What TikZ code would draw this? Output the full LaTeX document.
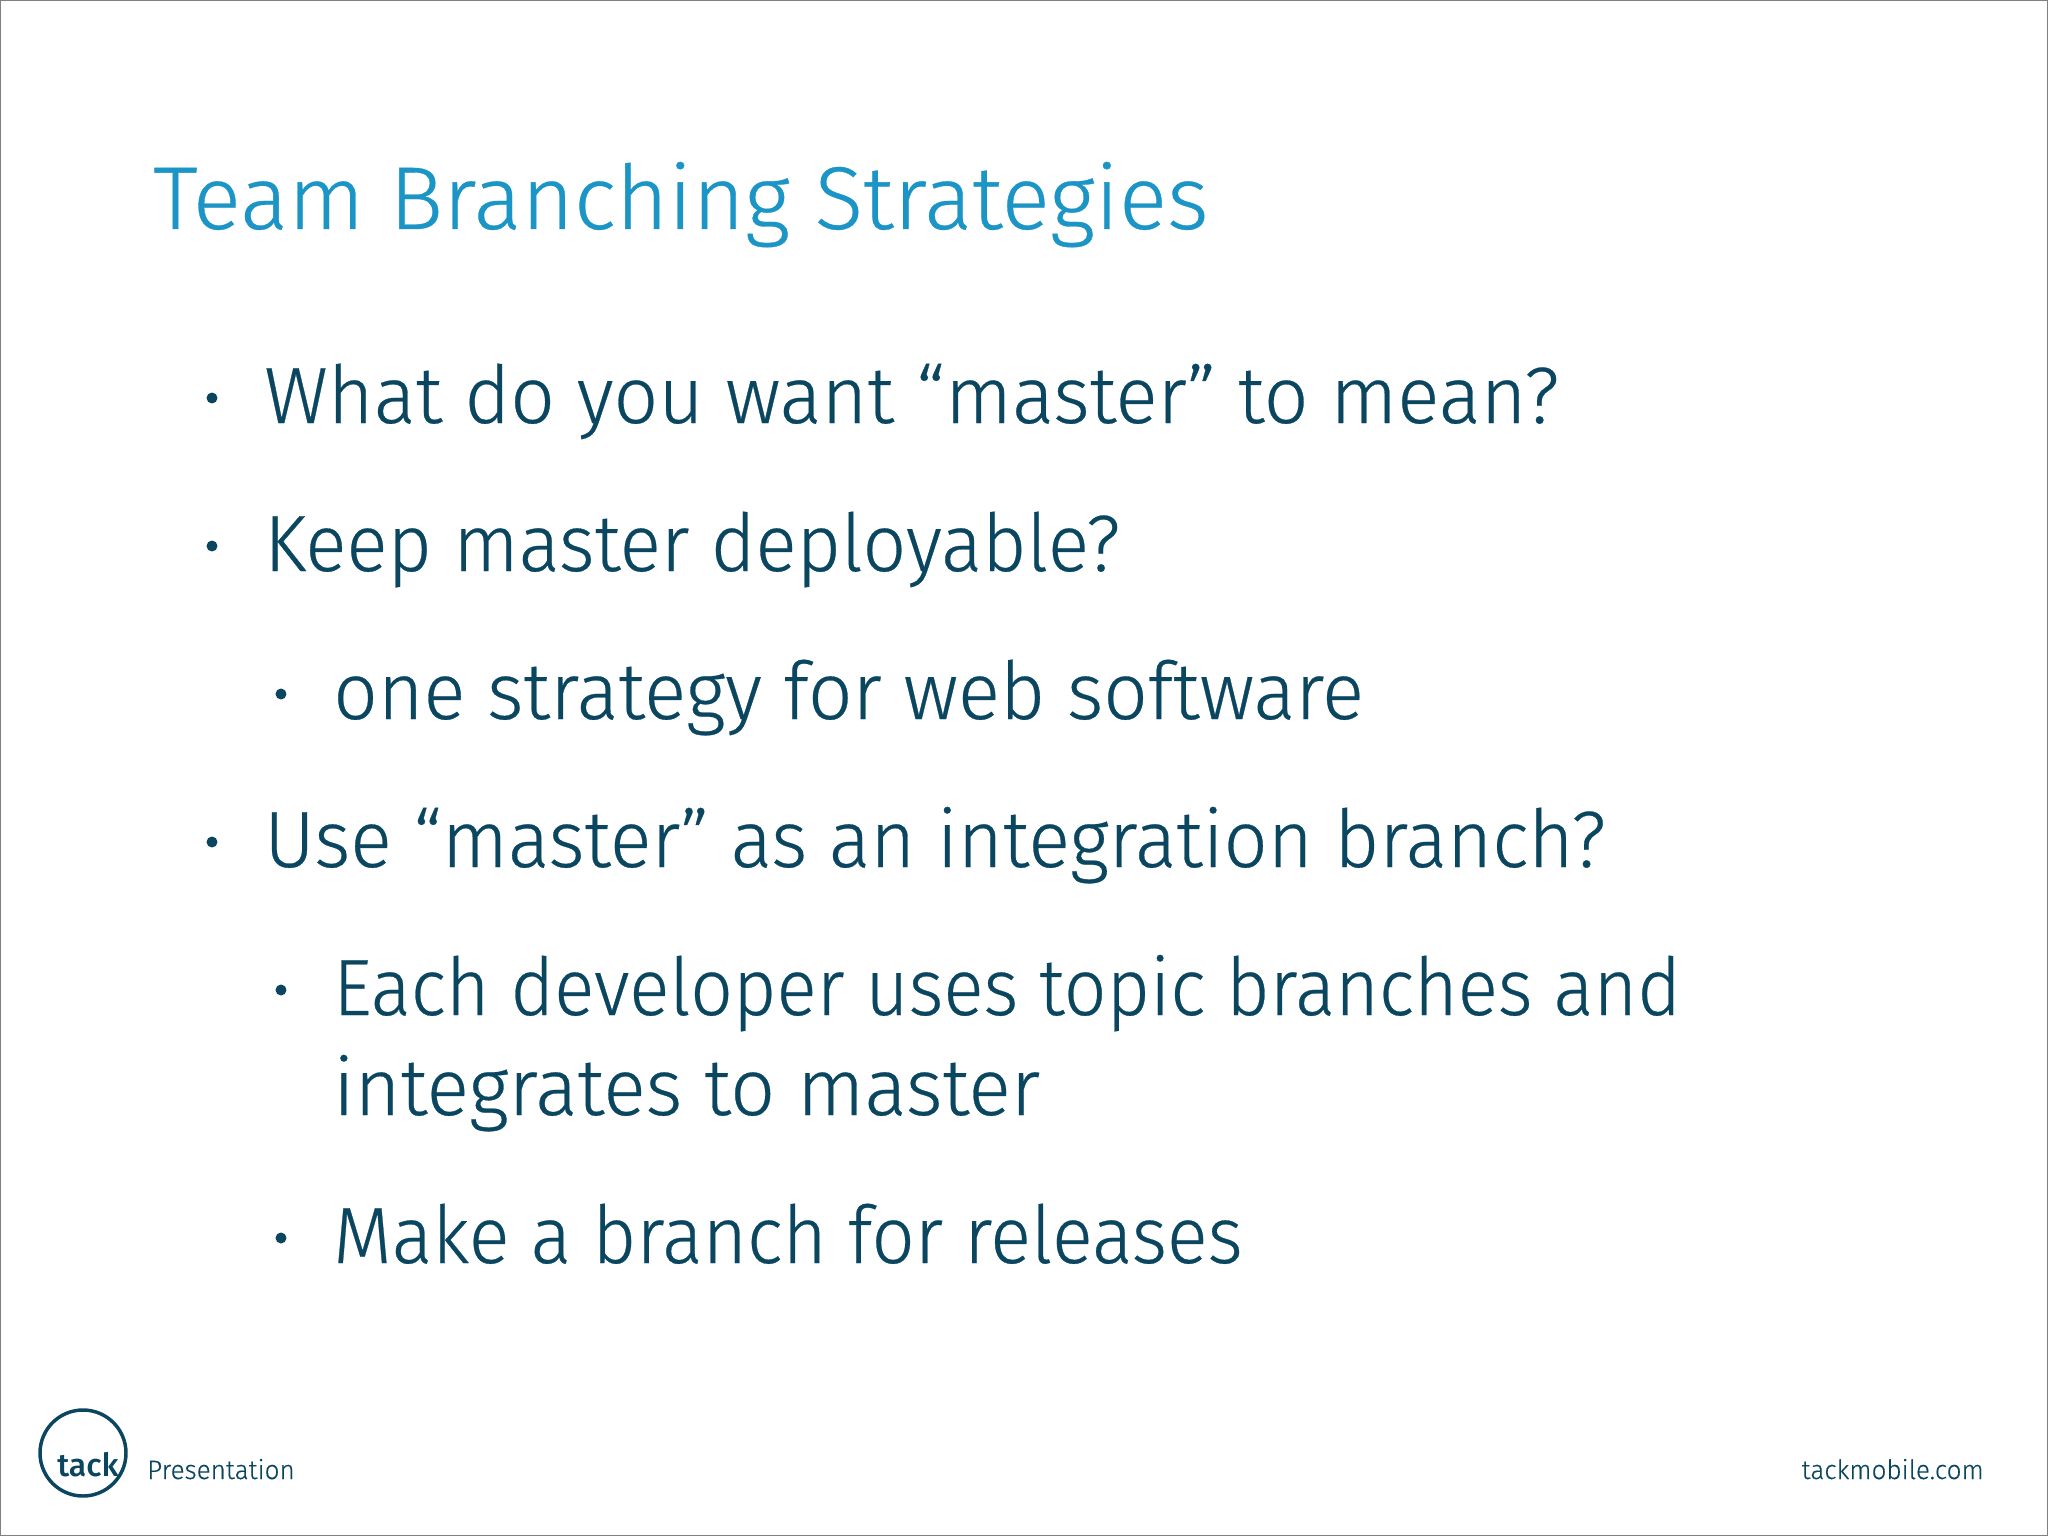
\documentclass[tikz,border=0pt]{standalone}
\usepackage{fontspec}
\usepackage{graphicx}
\setmainfont{Fira Sans Light}[FakeBold=0.35]
\newfontfamily\logofont{Fira Sans Medium}
\definecolor{titleblue}{HTML}{1B94C6}
\definecolor{bodyteal}{HTML}{0B4660}
\definecolor{frameg}{HTML}{808080}
\newcommand{\sx}[2]{\scalebox{#1}[1]{#2}}
\tikzset{
 bodytext/.style={anchor=base west,inner sep=0,text=bodyteal,font=\fontsize{60}{60}\selectfont},
 bul/.style={circle,fill=bodyteal,inner sep=0,minimum size=0.29cm},
 foot/.style={inner sep=0,text=bodyteal,font=\fontsize{20}{20}\selectfont}
}
\begin{document}
\begin{tikzpicture}[x=0.0264cm,y=-0.0264cm]
\useasboundingbox (0,0) rectangle (2048,1536);
\fill[white] (0,0) rectangle (2048,1536);
\draw[frameg,line width=1.5pt] (0,0) rectangle (2048,1536);
\node[anchor=base west,inner sep=0,text=titleblue,font=\fontsize{67}{67}\selectfont] (title) at (153,229) {\sx{1.005}{Team Branching Strategies}};
\node[bul] (b1) at (212,398) {};
\node[bodytext] (t1) at (264,423) {\sx{0.982}{What do you want “master” to mean?}};
\node[bul] (b2) at (212,546) {};
\node[bodytext] (t2) at (264,571) {\sx{0.959}{Keep master deployable?}};
\node[bul] (b3) at (281,694) {};
\node[bodytext] (t3) at (333,719) {\sx{0.978}{one strategy for web software}};
\node[bul] (b4) at (212,842) {};
\node[bodytext] (t4) at (264,867) {\sx{0.968}{Use “master” as an integration branch?}};
\node[bul] (b5) at (281,990) {};
\node[bodytext] (t5) at (333,1015) {\sx{0.937}{Each developer uses topic branches and}};
\node[bodytext] (t6) at (333,1115) {\sx{0.987}{integrates to master}};
\node[bul] (b6) at (281,1238) {};
\node[bodytext] (t7) at (333,1263) {\sx{0.949}{Make a branch for releases}};
\node[circle,draw=bodyteal,line width=2.6pt,minimum size=2.27cm,inner sep=0] (logo) at (83,1453) {};
\node[inner sep=0,text=bodyteal,font=\fontsize{24}{24}\logofont,anchor=base west] (tack) at (57,1476) {tack};
\node[foot,anchor=base west] (pres) at (147,1479) {\sx{0.98}{Presentation}};
\node[foot,anchor=base east] (site) at (1984,1479) {\sx{0.98}{tackmobile.com}};
\end{tikzpicture}
\end{document}
